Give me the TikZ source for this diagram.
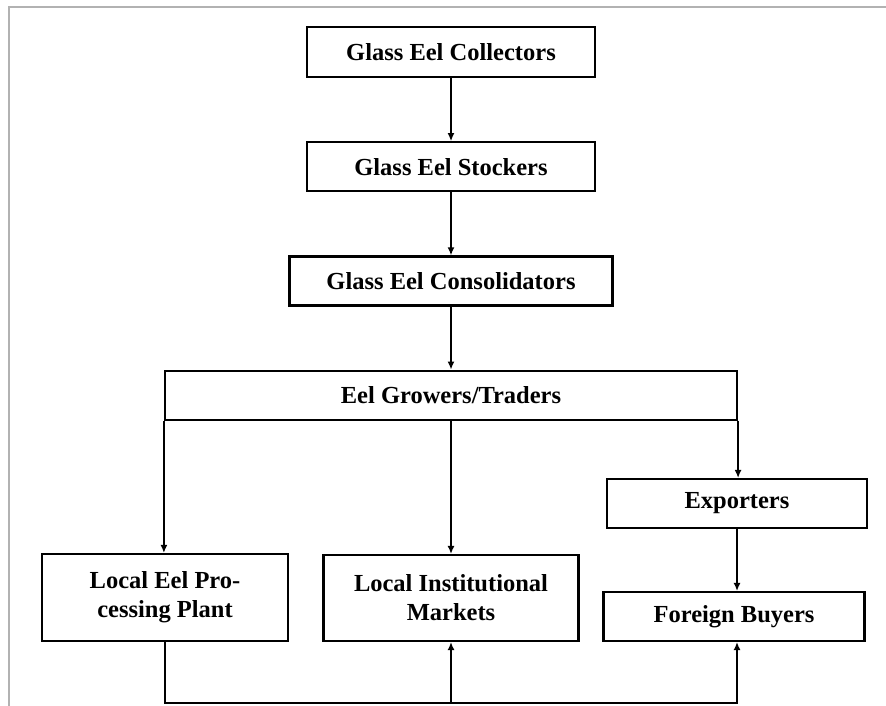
\documentclass[tikz,border=0pt]{standalone}
\usepackage{fontspec}
\setmainfont{Liberation Serif}
\usetikzlibrary{positioning,arrows.meta}

\begin{document}
\begin{tikzpicture}[
  x=1pt, y=-1pt,
  stage/.style={draw, line width=2.2pt, minimum height=49pt, inner sep=2pt,
    align=center, font=\bfseries\fontsize{24.5}{29}\selectfont},
  arr/.style={line width=1.4pt, -{Latex[length=8pt,width=7pt]}},
  >=Latex,
]
\useasboundingbox (0,0) rectangle (886,706);
% ---- frame ----
\draw[gray!60, line width=1.4pt] (9,706) -- (9,7) -- (886,7);

% ---- supply chain, top part ----
\node[stage, minimum width=288pt, minimum height=50pt] (coll) at (451,52) {Glass Eel Collectors};
\node[stage, minimum width=288pt, below=63pt of coll] (stock) {Glass Eel Stockers};
\node[stage, minimum width=323pt, below=63pt of stock] (cons) {Glass Eel Consolidators};
\node[stage, minimum width=572pt, below=63pt of cons] (grow) {Eel Growers/Traders};

% ---- outlets ----
\node[stage, minimum width=260pt] (exp) at (737,503.5) {Exporters};
\node[stage, minimum width=246pt, minimum height=87pt] (proc) at (165,597.5) {Local Eel Pro-\\cessing Plant};
\node[stage, minimum width=255pt, minimum height=86pt] (inst) at (451,598) {Local Institutional\\Markets};
\node[stage, minimum width=261pt] (buy) at (734,616.5) {Foreign Buyers};

\draw[arr] (coll) -- (stock);
\draw[arr] (stock) -- (cons);
\draw[arr] (cons) -- (grow);
\draw[arr] (grow.south west) -- (grow.south west |- proc.north);
\draw[arr] (grow.south) -- (grow.south |- inst.north);
\draw[arr] (grow.south east) -- (grow.south east |- exp.north);
\draw[arr] (exp.south) -- (exp.south |- buy.north);

% ---- bottom bus ----
\coordinate (bus) at (451,703);
\draw[arr] (proc.south) |- (bus) -| (exp.south |- buy.south);
\draw[arr] (bus) -- (inst.south);
\end{tikzpicture}
\end{document}
